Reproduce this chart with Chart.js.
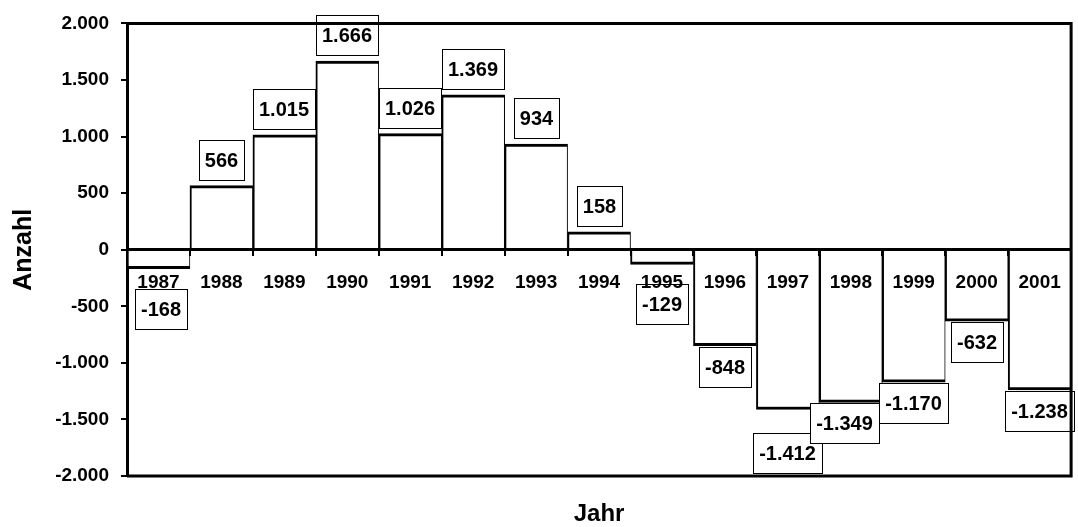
<!DOCTYPE html>
<html>
<head>
<meta charset="utf-8">
<script src="https://cdn.jsdelivr.net/npm/chart.js@4/dist/chart.umd.min.js"></script>
<style>
  html, body { margin: 0; padding: 0; background: #fff; }
</style>
</head>
<body>
<canvas id="myChart" width="1078" height="527"></canvas>
<script>
// Wanderungssaldo je Jahr
const years = ["1987", "1988", "1989", "1990", "1991", "1992", "1993", "1994",
  "1995", "1996", "1997", "1998", "1999", "2000", "2001"];
const saldo = [-168, 566, 1015, 1666, 1026, 1369, 934, 158,
  -129, -848, -1412, -1349, -1170, -632, -1238];
const yMin = -2000;
const yMax = 2000;
const yStep = 500;

const FONT = "'Liberation Sans', Arial, sans-serif";

// 1.666 / -1.412 style
const fmt = (v) => (v < 0 ? "-" : "") + String(Math.abs(v)).replace(/\B(?=(\d{3})+(?!\d))/g, ".");

const whiteBg = {
  id: "whiteBg",
  beforeDraw(chart) {
    const ctx = chart.ctx;
    ctx.save();
    ctx.fillStyle = "#fff";
    ctx.fillRect(0, 0, chart.width, chart.height);
    ctx.restore();
  },
};

const valueBoxes = {
  id: "valueBoxes",
  afterDatasetsDraw(chart, args, opts) {
    const ctx = chart.ctx;
    const meta = chart.getDatasetMeta(0);
    ctx.save();
    ctx.font = "bold 20px " + FONT;
    ctx.textAlign = "center";
    ctx.textBaseline = "middle";
    meta.data.forEach((bar, i) => {
      const v = saldo[i];
      const txt = fmt(v);
      const w = Math.round(ctx.measureText(txt).width + 12);
      const h = 40;
      const nudge = opts.nudge[years[i]] || [0, 0];
      const cx = bar.x + nudge[0];
      let top = v >= 0 ? bar.y - opts.gapAbove - h : bar.y + opts.gapBelow;
      top = Math.round(top + nudge[1]);
      const left = Math.round(cx - w / 2);
      ctx.fillStyle = "#fff";
      ctx.fillRect(left, top, w, h);
      ctx.strokeStyle = "#000";
      ctx.lineWidth = 1;
      ctx.strokeRect(left + 0.5, top + 0.5, w, h);
      ctx.fillStyle = "#000";
      ctx.fillText(txt, left + w / 2, top + h / 2 + 1);
    });
    ctx.restore();
  },
};

const frame = {
  id: "frame",
  afterDraw(chart) {
    const { left, right, top, bottom } = chart.chartArea;
    const ctx = chart.ctx;
    ctx.save();
    ctx.strokeStyle = "#000";
    ctx.lineWidth = 3;
    ctx.beginPath();
    ctx.moveTo(left, top);
    ctx.lineTo(right, top);
    ctx.lineTo(right, bottom);
    ctx.lineTo(left, bottom);
    ctx.stroke();
    ctx.restore();
  },
};

const ctx = document.getElementById("myChart").getContext("2d");
const myChart = new Chart(ctx, {
  type: "bar",
  data: {
    labels: years,
    datasets: [
      {
        label: "Anzahl",
        data: saldo,
        backgroundColor: "#fff",
        borderColor: "#000",
        borderWidth: { top: 3, bottom: 3, left: 2, right: 1 },
        barPercentage: 1,
        categoryPercentage: 1,
        xAxisID: "x",
      },
    ],
  },
  options: {
    responsive: false,
    animation: false,
    layout: { padding: { top: 11, right: 2, left: 0, bottom: 0 } },
    plugins: {
      legend: { display: false },
      tooltip: { enabled: false },
      valueBoxes: {
        gapAbove: 6,
        gapBelow: 1,
        nudge: { "1987": [3, 19], "1995": [0, 19], "1997": [0, 22], "1998": [-6, 0] },
      },
    },
    scales: {
      x: {
        position: { y: 0 },
        grid: { drawOnChartArea: false, offset: true, tickLength: 5, color: "#000", lineWidth: 2, z: 1 },
        border: { display: true, color: "#000", width: 3, z: 1 },
        ticks: {
          z: 1,
          color: "#000",
          font: { family: FONT, size: 19, weight: "bold" },
          padding: 17,
          maxRotation: 0,
          autoSkip: false,
        },
      },
      x2: {
        type: "category",
        labels: years,
        position: "bottom",
        grid: { display: false },
        border: { display: false },
        ticks: { display: false },
        title: {
          display: true,
          text: "Jahr",
          color: "#000",
          font: { family: FONT, size: 24, weight: "bold", lineHeight: 1.08 },
          padding: { top: 17, bottom: 0 },
        },
      },
      y: {
        min: yMin,
        max: yMax,
        afterFit: (scale) => { scale.width = 127; },
        ticks: {
          stepSize: yStep,
          callback: (v) => fmt(v),
          color: "#000",
          font: { family: FONT, size: 19, weight: "bold" },
          padding: 12,
        },
        grid: { drawOnChartArea: false, tickLength: 6, color: "#000", lineWidth: 2 },
        border: { display: true, color: "#000", width: 3 },
        title: {
          display: true,
          text: "Anzahl",
          color: "#000",
          font: { family: FONT, size: 25, weight: "bold" },
          padding: { top: 9, bottom: 0 },
        },
      },
    },
  },
  plugins: [whiteBg, valueBoxes, frame],
});
</script>
</body>
</html>
